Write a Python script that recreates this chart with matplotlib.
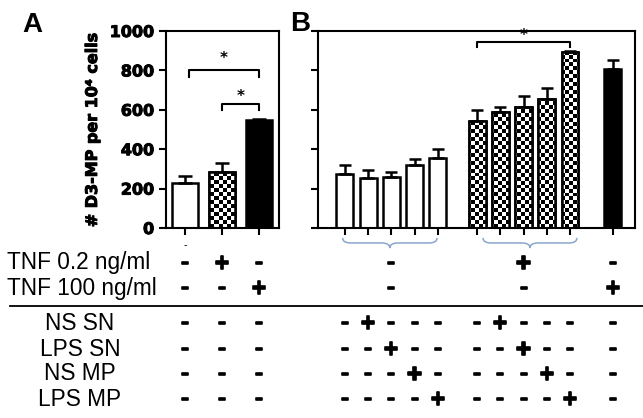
import numpy as np
import matplotlib
matplotlib.use("Agg")
import matplotlib.pyplot as plt
import matplotlib.transforms as mtransforms
from matplotlib.path import Path
from matplotlib.patches import PathPatch
import matplotlib.patheffects as pe

# panel A: control, TNF 0.2 ng/ml, TNF 100 ng/ml
a_means = [230, 282, 550]
a_err = [32, 46, 4]
a_xlabels = ['-', '', '']

# panel B: supernatant / MP treatments without (white) and with TNF 0.2 (checker), then TNF 100 (black)
b_white = [272, 255, 260, 320, 353]
b_white_err = [46, 38, 24, 30, 50]
b_check = [545, 587, 612, 656, 893]
b_check_err = [54, 29, 60, 53, 4]
b_black = [805]
b_black_err = [48]

yticks = [0, 200, 400, 600, 800, 1000]
ylabel = '# D3-MP per 10⁴ cells'

tnf_rows = ['TNF 0.2 ng/ml', 'TNF 100 ng/ml']
tnf_a = [['-', '+', '-'], ['-', '-', '+']]
tnf_b = [['-', '+', '-'], ['-', '-', '+']]   # white group, checker group, black
stim_rows = ['NS SN', 'LPS SN', 'NS MP', 'LPS MP']

W, H = 643, 418
fig = plt.figure(figsize=(W / 100, H / 100), dpi=100)
fig.patch.set_facecolor('white')

axA = fig.add_axes([166 / W, 1 - 228 / H, 113 / W, 197 / H])
axB = fig.add_axes([318 / W, 1 - 228 / H, 317 / W, 197 / H])

a_x = np.arange(3)
b_white_x = np.arange(5)
b_check_x = np.arange(5) + 5.7
b_black_x = np.array([11.55])


def checker_fill(ax, bars, cell_px=3.9):
    bb = ax.get_position()
    wpx, hpx = bb.width * W, bb.height * H
    nx, ny = int(wpx / cell_px), int(hpx / cell_px)
    pat = (np.add.outer(np.arange(ny), np.arange(nx)) % 2).astype(float)
    x0, x1 = ax.get_xlim()
    y0, y1 = ax.get_ylim()
    for b in bars:
        im = ax.imshow(pat, cmap='gray_r', extent=(x0, x1, y0, y1), aspect='auto',
                       interpolation='nearest', zorder=1.5, origin='lower')
        im.set_clip_path(b)
    ax.set_xlim(x0, x1)
    ax.set_ylim(y0, y1)


def style(ax):
    ax.set_ylim(0, 1000)
    ax.set_yticks(yticks)
    for s in ax.spines.values():
        s.set_linewidth(1.5)
    ax.tick_params(axis='both', direction='out', length=5, width=1.5)


def bracket(ax, x0, x1, y, drop, star_y):
    ax.plot([x0, x0, x1, x1], [y - drop, y, y, y - drop], color='black', lw=1.5, clip_on=False)
    ax.text((x0 + x1) / 2, star_y, '*', ha='center', va='center', fontsize=11, fontweight='bold')


heavy = [pe.withStroke(linewidth=0.7, foreground='black')]

# ---- panel A
axA.set_xlim(-0.51, 2.54)
style(axA)
axA.bar(a_x[0], a_means[0], 0.7, color='white', edgecolor='black', lw=1.8, zorder=2)
cb = axA.bar(a_x[1], a_means[1], 0.7, color='white', edgecolor='black', lw=1.8, zorder=1)
axA.bar(a_x[1], a_means[1], 0.7, fill=False, edgecolor='black', lw=1.8, zorder=2)
axA.bar(a_x[2], a_means[2], 0.7, color='black', edgecolor='black', lw=1.8, zorder=2)
checker_fill(axA, cb.patches)
axA.errorbar(a_x, a_means, yerr=[np.zeros(3), a_err], fmt='none', ecolor='black',
             elinewidth=1.8, capsize=5, capthick=1.8, zorder=3)
axA.set_xticks(a_x)
axA.set_xticklabels(a_xlabels, fontsize=7)
axA.set_yticklabels([str(t) for t in yticks], fontsize=11.5, fontweight='bold')
for t in axA.get_yticklabels():
    t.set_path_effects(heavy)
axA.set_ylabel(ylabel, fontsize=11.5, fontweight='bold', labelpad=7, path_effects=heavy)
bracket(axA, 0.1, 2, 800, 35, 860)
bracket(axA, 1, 2, 628, 28, 668)

# ---- panel B
axB.set_xlim(-1.16, 12.5)
style(axB)
axB.bar(b_white_x, b_white, 0.73, color='white', edgecolor='black', lw=1.8, zorder=2)
cb = axB.bar(b_check_x, b_check, 0.73, color='white', edgecolor='black', lw=1.8, zorder=1)
axB.bar(b_check_x, b_check, 0.73, fill=False, edgecolor='black', lw=1.8, zorder=2)
axB.bar(b_black_x, b_black, 0.73, color='black', edgecolor='black', lw=1.8, zorder=2)
checker_fill(axB, cb.patches)
for xs, ms, es in [(b_white_x, b_white, b_white_err), (b_check_x, b_check, b_check_err),
                   (b_black_x, b_black, b_black_err)]:
    axB.errorbar(xs, ms, yerr=[np.zeros(len(ms)), es], fmt='none', ecolor='black',
                 elinewidth=1.8, capsize=4, capthick=1.8, zorder=3)
all_bx = np.concatenate([b_white_x, b_check_x, b_black_x])
axB.set_xticks(all_bx)
axB.set_xticklabels([])
axB.set_yticklabels([])
bracket(axB, b_check_x[0], b_check_x[-1], 943, 22, 978)

# braces under the groups
trB = mtransforms.blended_transform_factory(axB.transData, axB.transAxes)


def brace(x0, x1, yt=-0.05, yb=-0.102):
    xm = (x0 + x1) / 2
    ym = (yt + yb) / 2
    r = 0.35
    verts = [(x0, yt), (x0, ym), (x0 + r, ym), (xm - r, ym), (xm, ym), (xm, yb),
             (xm, ym), (xm + r, ym), (x1 - r, ym), (x1, ym), (x1, yt)]
    codes = [Path.MOVETO, Path.CURVE3, Path.CURVE3, Path.LINETO, Path.CURVE3, Path.CURVE3,
             Path.CURVE3, Path.CURVE3, Path.LINETO, Path.CURVE3, Path.CURVE3]
    axB.add_patch(PathPatch(Path(verts, codes), fill=False, edgecolor='#8aa6cc', lw=1.1,
                            transform=trB, clip_on=False))


brace(b_white_x[0] - 0.1, b_white_x[-1] - 0.03)
brace(b_check_x[0] + 0.25, b_check_x[-1] + 0.3)

# panel letters
fig.text(22 / W, 1 - 32 / H, 'A', fontsize=20, fontweight='bold', family='Liberation Sans')
fig.text(290 / W, 1 - 31 / H, 'B', fontsize=20, fontweight='bold', family='Liberation Sans')

# ---- treatment table
trA_t = mtransforms.blended_transform_factory(axA.transData, fig.transFigure)
trB_t = mtransforms.blended_transform_factory(axB.transData, fig.transFigure)
fx = [pe.withStroke(linewidth=1.2, foreground='black')]


def mark(tr, x, y, s):
    fig.text(x, y, s, transform=tr, ha='center', va='center', fontsize=14,
             fontweight='bold', path_effects=fx)


tnf_y = [1 - 263 / H, 1 - 288 / H]
group_x = [np.mean(b_white_x), np.mean(b_check_x), b_black_x[0]]
for i, lab in enumerate(tnf_rows):
    fig.text(7 / W, tnf_y[i], lab, fontsize=16.3, family='Liberation Sans', va='center', ha='left')
    for j in range(3):
        mark(trA_t, a_x[j], tnf_y[i], tnf_a[i][j])
        mark(trB_t, group_x[j], tnf_y[i], tnf_b[i][j])

fig.add_artist(plt.Line2D([10 / W, 1], [1 - 306 / H] * 2, color='black', lw=1.3))

stim_y = [1 - 323 / H, 1 - 349 / H, 1 - 374 / H, 1 - 399 / H]
for i, lab in enumerate(stim_rows):
    fig.text(80 / W, stim_y[i], lab, fontsize=16.3, family='Liberation Sans', va='center', ha='center')
    for j in range(3):
        mark(trA_t, a_x[j], stim_y[i], '-')
    for j in range(5):
        s = '+' if j == i + 1 else '-'
        mark(trB_t, b_white_x[j], stim_y[i], s)
        mark(trB_t, b_check_x[j], stim_y[i], s)
    mark(trB_t, b_black_x[0], stim_y[i], '-')

fig.savefig('out.png', dpi=100)
